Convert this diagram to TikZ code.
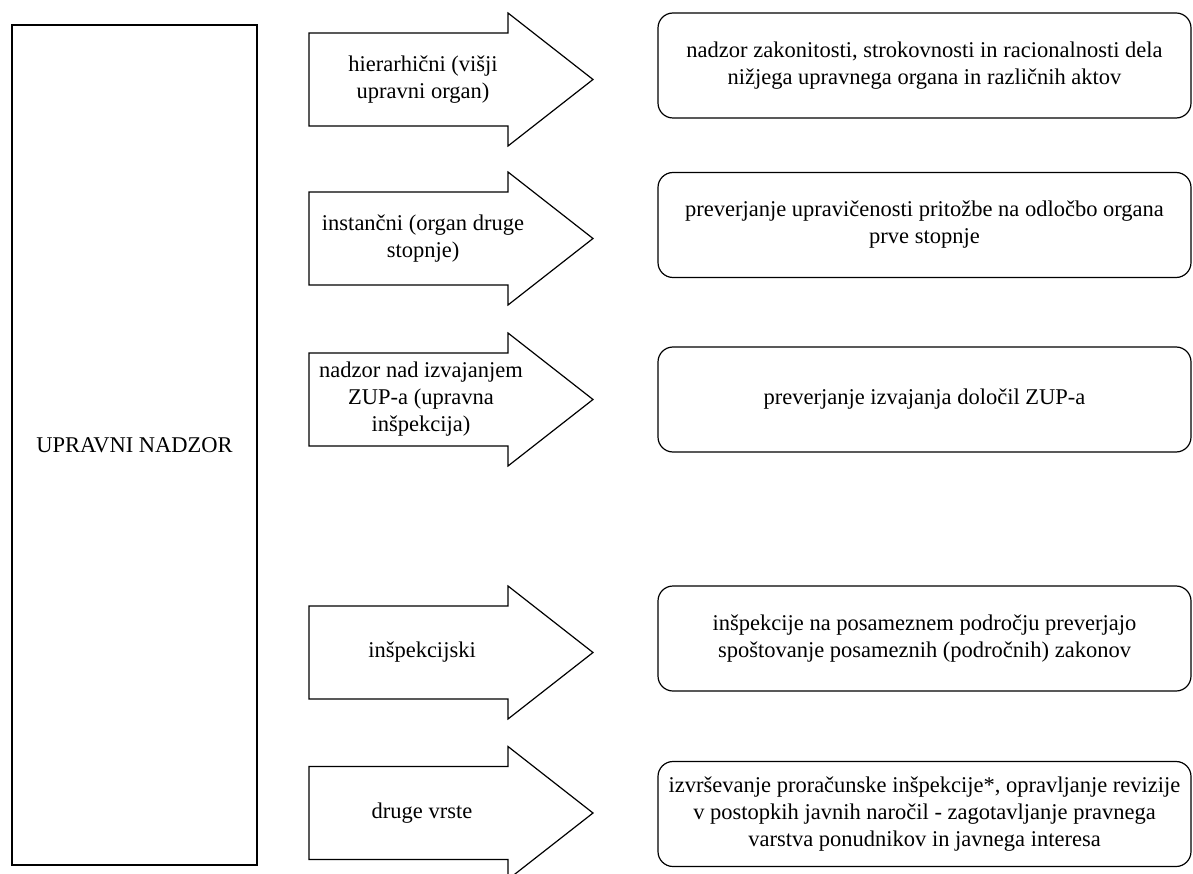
\documentclass[tikz,border=0pt]{standalone}
\usepackage{fontspec}
\setmainfont{Liberation Serif}
\newcommand\bigarrowat[1]{%
  \draw[bigarr] (309,{#1-46.5}) -- (508,{#1-46.5}) -- (508,{#1-66.5}) -- (593,#1)
    -- (508,{#1+66.5}) -- (508,{#1+46.5}) -- (309,{#1+46.5}) -- cycle;}
\tikzset{
  txt/.style={font=\fontsize{22.5}{27}\selectfont, align=center, inner sep=0pt},
  rbox/.style={draw, line width=1.2pt, rounded corners=15pt, minimum width=533pt,
    minimum height=105pt, txt},
  bigarr/.style={draw, line width=1.2pt, line join=miter},
  mainbox/.style={draw, line width=1.6pt, minimum width=245pt, minimum height=840pt, txt},
}
\begin{document}
\begin{tikzpicture}[x=1pt, y=-1pt]
\useasboundingbox (0,0) rectangle (1193,874);
\fill[white] (0,0) rectangle (1193,874);

% left box
\node[mainbox] (main) at (134.5,445) {UPRAVNI NADZOR};

% arrows
\bigarrowat{79.5}
\node[txt] (a1) at (423,79.5) {hierarhični (višji\\upravni organ)};
\bigarrowat{238.5}
\node[txt] (a2) at (423,238.5) {instančni (organ druge\\stopnje)};
\bigarrowat{399.5}
\node[txt] (a3) at (421,399.5) {nadzor nad izvajanjem\\ZUP-a (upravna\\inšpekcija)};
\bigarrowat{652.5}
\node[txt] (a4) at (422,652.5) {inšpekcijski};
\bigarrowat{813}
\node[txt] (a5) at (422,813) {druge vrste};

% boxes
\node[rbox] (b1) at (924.5,65.5) {nadzor zakonitosti, strokovnosti in racionalnosti dela\\nižjega upravnega organa in različnih aktov};
\node[rbox] (b2) at (924.5,225) {preverjanje upravičenosti pritožbe na odločbo organa\\prve stopnje};
\node[rbox] (b3) at (924.5,399.5) {preverjanje izvajanja določil ZUP-a};
\node[rbox] (b4) at (924.5,638.5) {inšpekcije na posameznem področju preverjajo\\spoštovanje posameznih (področnih) zakonov};
\node[rbox] (b5) at (924.5,814) {izvrševanje proračunske inšpekcije*, opravljanje revizije\\v postopkih javnih naročil - zagotavljanje pravnega\\varstva ponudnikov in javnega interesa};
\end{tikzpicture}
\end{document}
